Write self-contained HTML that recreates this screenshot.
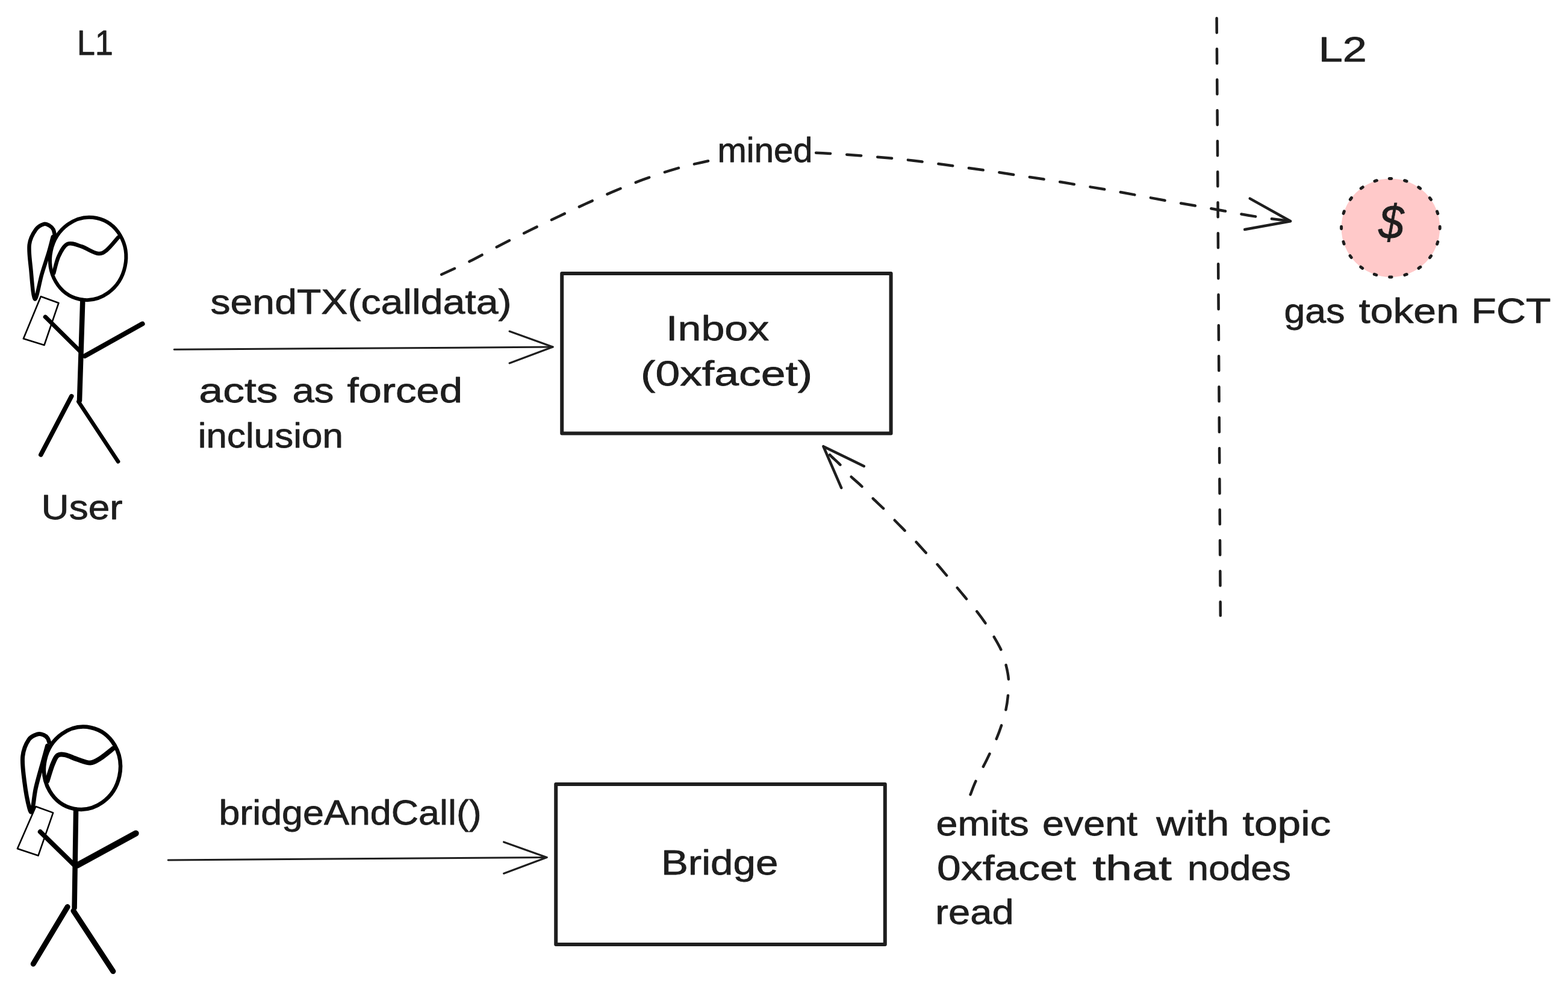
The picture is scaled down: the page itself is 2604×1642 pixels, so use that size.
<!DOCTYPE html>
<html lang="en">
<head>
<meta charset="utf-8">
<title>L1 to L2 forced inclusion diagram</title>
<style>
html,body{margin:0;padding:0;background:#ffffff;}
body{width:2604px;height:1642px;overflow:hidden;}
svg{display:block;}
text{font-family:"Liberation Sans","DejaVu Sans",sans-serif;fill:#1e1e1e;stroke:#1e1e1e;stroke-width:0.8;stroke-linejoin:round;}
.d{fill:none;stroke:#1e1e1e;stroke-width:4.5;stroke-linecap:round;stroke-linejoin:round;}
.t{fill:none;stroke:#1e1e1e;stroke-width:3;stroke-linecap:round;stroke-linejoin:round;}
.r{fill:none;stroke:#1e1e1e;stroke-width:6;stroke-linecap:round;stroke-linejoin:round;}
.k{fill:none;stroke:#000;stroke-linecap:round;stroke-linejoin:round;}
</style>
</head>
<body>
<svg width="2604" height="1642" viewBox="0 0 2604 1642">
<rect x="0" y="0" width="2604" height="1642" fill="#ffffff"/>
<path class="d" stroke-dasharray="24 27" d="M2020.6 30.3 L2026.8 1022"/>
<path class="d" stroke-dasharray="24 27" d="M733.2 455.7 C741.0 452.1 763.1 442.4 779.7 434.1 C796.3 425.8 815.7 414.8 832.9 405.9 C850.1 397.0 866.7 388.9 882.7 381.0 C898.8 373.1 914.2 365.8 929.2 358.7 C944.2 351.6 957.5 345.3 972.4 338.5 C987.3 331.7 1002.8 324.7 1018.9 317.9 C1035.0 311.1 1052.2 304.0 1068.8 297.9 C1085.4 291.8 1102.5 286.0 1118.6 281.3 C1134.6 276.6 1148.2 273.4 1165.1 269.7 C1182.0 266.0 1200.8 261.6 1220.0 259.0 C1239.2 256.4 1260.0 255.0 1280.0 254.0 C1300.0 253.0 1318.9 252.8 1340.0 253.2 C1361.1 253.6 1382.8 255.1 1406.6 256.7 C1430.4 258.3 1462.0 261.0 1483.0 263.0 C1504.0 265.0 1516.3 266.6 1532.9 268.7 C1549.5 270.8 1566.1 273.0 1582.7 275.3 C1599.3 277.6 1615.4 279.8 1632.6 282.3 C1649.8 284.8 1668.5 287.7 1685.7 290.3 C1702.9 292.9 1718.9 295.2 1735.5 297.9 C1752.1 300.5 1768.8 303.4 1785.4 306.2 C1802.0 309.0 1818.6 311.6 1835.2 314.5 C1851.8 317.4 1868.4 320.4 1885.0 323.5 C1901.6 326.6 1917.7 329.7 1934.9 332.8 C1952.1 335.9 1970.8 339.1 1988.0 342.1 C2005.2 345.2 2021.8 348.2 2037.9 351.1 C2054.0 354.0 2066.9 356.7 2084.4 359.4 C2101.9 362.1 2133.4 365.9 2143.2 367.2"/>
<path class="d" d="M2075.7 329.6 L2143.2 367.2 L2067.2 381"/>
<rect x="1184" y="215" width="166" height="72" fill="#ffffff"/>
<path class="d" stroke-dasharray="24 27" d="M1611.6 1319.2 C1613.1 1315.5 1616.2 1306.2 1620.6 1296.7 C1625.0 1287.2 1632.5 1274.0 1638.2 1262.4 C1643.9 1250.8 1650.3 1237.2 1654.5 1227.3 C1658.7 1217.4 1660.8 1211.3 1663.5 1203.2 C1666.2 1195.1 1668.6 1186.9 1670.4 1178.7 C1672.2 1170.5 1673.3 1162.3 1674.1 1153.8 C1674.8 1145.3 1675.5 1136.0 1674.9 1127.6 C1674.3 1119.1 1672.4 1111.1 1670.4 1103.1 C1668.4 1095.1 1666.1 1087.2 1662.7 1079.4 C1659.3 1071.6 1654.3 1063.4 1650.0 1056.1 C1645.7 1048.8 1641.8 1042.3 1637.0 1035.3 C1632.2 1028.3 1626.7 1020.8 1621.4 1014.1 C1616.2 1007.4 1610.9 1001.4 1605.5 994.9 C1600.1 988.4 1594.7 981.8 1589.2 975.3 C1583.7 968.8 1578.1 962.3 1572.4 955.7 C1566.8 949.1 1561.0 942.0 1555.3 935.7 C1549.6 929.4 1543.9 924.2 1538.1 918.1 C1532.3 912.0 1526.4 905.0 1520.6 898.9 C1514.8 892.8 1508.9 887.3 1503.0 881.3 C1497.1 875.3 1490.9 869.1 1485.0 863.0 C1479.1 856.9 1473.5 850.6 1467.5 844.6 C1461.5 838.6 1455.1 833.1 1449.1 827.0 C1443.1 820.9 1437.6 813.9 1431.5 807.8 C1425.4 801.7 1418.4 796.4 1412.3 790.3 C1406.2 784.2 1400.6 777.0 1394.8 771.1 C1389.0 765.2 1382.2 759.7 1377.6 754.7 C1373.0 749.7 1369.1 743.5 1367.4 741.2"/>
<path class="d" d="M1434.8 773.9 L1367.4 741.2 L1397.2 809.9"/>
<path class="t" d="M289.2 580.3 L918.1 576.1"/>
<path class="t" style="stroke-width:3.2" d="M846.1 550.1 L918.1 576.1 L846.1 602.9"/>
<path class="t" d="M279.2 1427.9 L908.1 1423.4"/>
<path class="t" style="stroke-width:3.2" d="M836.6 1398.0 L908.1 1423.4 L836.6 1450.2"/>
<rect class="r" x="933.2" y="453.9" width="546.4" height="265.5"/>
<rect class="r" x="923.2" y="1302.1" width="546.6" height="266"/>
<circle cx="2309.4" cy="378.2" r="81.8" fill="#ffc9c9"/>
<circle class="d" style="stroke-width:5" cx="2309.4" cy="378.2" r="81.8" stroke-dasharray="3.6 22.1" transform="rotate(-91.5 2309.4 378.2)"/>
<ellipse class="k" stroke-width="6" cx="146.2" cy="429.4" rx="62.8" ry="68.9" transform="rotate(12 146.2 429.4)"/>
<path class="k" stroke-width="6.5" d="M91.2 392.0 C90.8 390.2 90.0 383.9 88.5 381.0 C87.0 378.1 84.6 376.0 82.0 374.5 C79.4 373.0 76.5 371.0 72.7 372.1 C69.0 373.2 63.5 375.6 59.5 381.2 C55.5 386.8 50.2 394.9 48.8 405.9 C47.4 416.9 49.8 431.9 51.3 447.0 C52.8 462.1 54.9 495.1 57.9 496.5 C60.9 497.9 65.6 468.2 69.4 455.3 C73.2 442.4 77.8 429.4 80.9 419.0 C84.0 408.6 86.7 397.3 87.8 393.0"/>
<path class="k" stroke-width="6.5" d="M89.2 453.6 C90.6 448.9 93.6 433.7 97.4 425.6 C101.2 417.5 105.9 407.7 112.2 405.0 C118.5 402.3 127.1 406.6 135.3 409.2 C143.5 411.8 154.7 419.6 161.6 420.7 C168.5 421.8 170.7 420.2 176.5 415.8 C182.3 411.4 192.9 397.9 196.2 394.3"/>
<path class="k" stroke-width="2.6" d="M67.8 492.3 L97.4 503.0 L73.5 573.0 L38.9 562.3Z"/>
<path class="k" stroke-width="8.5" d="M137.3 498.9 L132.0 665.2"/>
<path class="k" stroke-width="7" d="M75.2 526.1 L133.6 583.7"/>
<path class="k" stroke-width="8" d="M236.6 537.6 L141.0 591.0"/>
<path class="k" stroke-width="7.5" d="M118.8 657.8 L67.8 754.9"/>
<path class="k" stroke-width="6.5" d="M130.3 666.8 L196.2 766.4"/>
<ellipse class="k" stroke-width="6.5" cx="136.5" cy="1275.3" rx="63.2" ry="68.8" transform="rotate(12 136.5 1275.3)"/>
<path class="k" stroke-width="7" d="M81.6 1232.0 C81.2 1230.9 80.5 1227.5 79.0 1225.5 C77.5 1223.5 75.2 1221.4 72.5 1220.3 C69.8 1219.2 66.8 1217.5 62.7 1218.8 C58.6 1220.1 52.1 1221.7 47.9 1227.9 C43.7 1234.1 38.9 1244.4 37.7 1255.9 C36.5 1267.4 38.7 1282.7 40.5 1297.0 C42.3 1311.3 46.5 1333.5 48.7 1341.5 C50.9 1349.5 51.8 1350.3 53.6 1344.8 C55.4 1339.3 56.5 1321.8 59.4 1308.6 C62.3 1295.4 67.7 1277.6 70.9 1265.8 C74.1 1254.0 77.3 1242.6 78.6 1238.0"/>
<path class="k" stroke-width="8" d="M78.3 1297.0 C79.8 1292.3 84.5 1276.2 87.4 1269.1 C90.3 1262.0 92.0 1256.8 95.6 1254.2 C99.2 1251.6 103.3 1252.3 108.8 1253.4 C114.3 1254.5 121.7 1258.6 128.6 1260.8 C135.5 1263.0 143.7 1266.9 150.0 1266.6 C156.3 1266.3 160.2 1263.2 166.5 1259.2 C172.8 1255.2 184.3 1245.5 187.9 1242.7"/>
<path class="k" stroke-width="2.6" d="M59.4 1339.0 L88.2 1349.4 L63.5 1420.6 L28.9 1409.0Z"/>
<path class="k" stroke-width="8.5" d="M126.1 1344.8 L123.6 1507.3"/>
<path class="k" stroke-width="8" d="M66.8 1381.0 L123.6 1436.5"/>
<path class="k" stroke-width="10" d="M225.7 1383.5 L128.6 1436.5"/>
<path class="k" stroke-width="9" d="M112.1 1505.6 L55.3 1600.3"/>
<path class="k" stroke-width="9" d="M122.0 1512.2 L187.9 1612.7"/>
<text y="90.5" font-size="58"><tspan x="127.7" textLength="60.3" lengthAdjust="spacingAndGlyphs">L1</tspan></text>
<text y="102.3" font-size="58"><tspan x="2189.7" textLength="80.1" lengthAdjust="spacingAndGlyphs">L2</tspan></text>
<text y="861.5" font-size="58"><tspan x="68.6" textLength="134.9" lengthAdjust="spacingAndGlyphs">User</tspan></text>
<text y="520.5" font-size="58"><tspan x="349.5" textLength="500.0" lengthAdjust="spacingAndGlyphs">sendTX(calldata)</tspan></text>
<text y="668.0" font-size="58"><tspan x="330.5" textLength="131.0" lengthAdjust="spacingAndGlyphs">acts</tspan> <tspan x="485.4" textLength="69.1" lengthAdjust="spacingAndGlyphs">as</tspan> <tspan x="576.4" textLength="191.7" lengthAdjust="spacingAndGlyphs">forced</tspan></text>
<text y="743.0" font-size="58"><tspan x="328.8" textLength="241.2" lengthAdjust="spacingAndGlyphs">inclusion</tspan></text>
<text y="269.0" font-size="58"><tspan x="1191.4" textLength="158.1" lengthAdjust="spacingAndGlyphs">mined</tspan></text>
<text y="565.2" font-size="58"><tspan x="1106.1" textLength="171.1" lengthAdjust="spacingAndGlyphs">Inbox</tspan></text>
<text y="639.8" font-size="58"><tspan x="1064.0" textLength="285.2" lengthAdjust="spacingAndGlyphs">(0xfacet)</tspan></text>
<text y="536.1" font-size="58"><tspan x="2132.6" textLength="100.8" lengthAdjust="spacingAndGlyphs">gas</tspan> <tspan x="2256.8" textLength="166.1" lengthAdjust="spacingAndGlyphs">token</tspan> <tspan x="2443.3" textLength="132.4" lengthAdjust="spacingAndGlyphs">FCT</tspan></text>
<text y="1369.2" font-size="58"><tspan x="363.4" textLength="436.4" lengthAdjust="spacingAndGlyphs">bridgeAndCall()</tspan></text>
<text y="1452.0" font-size="58"><tspan x="1097.9" textLength="194.4" lengthAdjust="spacingAndGlyphs">Bridge</tspan></text>
<text y="1386.5" font-size="58"><tspan x="1554.5" textLength="154.4" lengthAdjust="spacingAndGlyphs">emits</tspan> <tspan x="1730.9" textLength="158.2" lengthAdjust="spacingAndGlyphs">event</tspan> <tspan x="1920.3" textLength="120.9" lengthAdjust="spacingAndGlyphs">with</tspan> <tspan x="2063.6" textLength="146.7" lengthAdjust="spacingAndGlyphs">topic</tspan></text>
<text y="1461.0" font-size="58"><tspan x="1556.1" textLength="230.7" lengthAdjust="spacingAndGlyphs">0xfacet</tspan> <tspan x="1814.5" textLength="131.3" lengthAdjust="spacingAndGlyphs">that</tspan> <tspan x="1972.1" textLength="171.8" lengthAdjust="spacingAndGlyphs">nodes</tspan></text>
<text y="1534.0" font-size="58"><tspan x="1553.3" textLength="130.3" lengthAdjust="spacingAndGlyphs">read</tspan></text>
<text x="2289.2" y="395.5" font-size="80" font-style="italic" textLength="42.2" lengthAdjust="spacingAndGlyphs">$</text>
</svg>
</body>
</html>
